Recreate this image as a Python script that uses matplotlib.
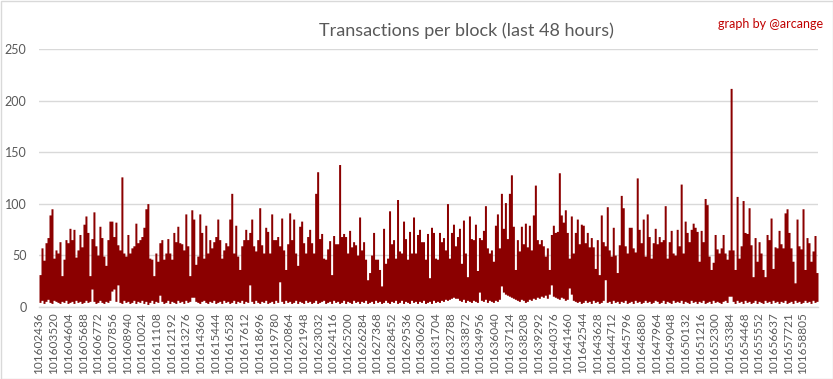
import numpy as np
import matplotlib
matplotlib.use('Agg')
import matplotlib.pyplot as plt
from matplotlib.patches import Rectangle

# block range shown on the axis
first_block = 101602436
last_block = 101659910

# per-column max / min of transactions per block (left to right)
tx_max = [
    31, 57, 45, 62, 67, 89, 95, 47, 55, 52,
    63, 30, 46, 65, 62, 76, 65, 75, 48, 55,
    70, 58, 80, 88, 72, 30, 66, 92, 59, 50,
    78, 67, 49, 40, 65, 83, 83, 68, 82, 60,
    55, 126, 52, 49, 70, 52, 57, 59, 81, 62,
    65, 68, 77, 95, 100, 47, 46, 30, 52, 44,
    62, 65, 46, 52, 66, 52, 46, 72, 63, 78,
    62, 61, 55, 90, 59, 30, 94, 85, 41, 49,
    90, 72, 47, 79, 52, 65, 57, 63, 68, 85,
    65, 47, 55, 62, 59, 85, 110, 52, 79, 49,
    36, 59, 65, 75, 65, 72, 85, 59, 54, 65,
    96, 60, 52, 77, 73, 52, 90, 65, 65, 68,
    59, 86, 55, 36, 61, 91, 65, 85, 52, 40,
    78, 83, 62, 52, 68, 75, 62, 52, 110, 131,
    66, 71, 47, 46, 56, 64, 31, 69, 61, 61,
    138, 68, 71, 68, 52, 74, 58, 63, 60, 50,
    87, 55, 63, 46, 26, 33, 50, 72, 46, 46,
    36, 20, 76, 42, 47, 93, 61, 65, 47, 104,
    54, 52, 83, 66, 46, 73, 52, 87, 52, 70,
    75, 63, 63, 46, 71, 28, 77, 72, 47, 46,
    72, 63, 67, 55, 100, 47, 72, 80, 59, 68,
    76, 42, 84, 52, 29, 88, 66, 65, 80, 35,
    67, 65, 74, 98, 57, 52, 55, 44, 79, 90,
    57, 110, 76, 101, 66, 110, 128, 78, 36, 65,
    54, 78, 61, 81, 58, 79, 55, 89, 118, 65,
    61, 65, 59, 49, 57, 36, 70, 79, 72, 73,
    130, 89, 82, 94, 72, 47, 88, 52, 72, 85,
    61, 80, 79, 62, 72, 58, 67, 58, 37, 65,
    31, 89, 63, 59, 97, 55, 49, 77, 50, 33,
    60, 108, 96, 59, 52, 77, 77, 57, 53, 125,
    75, 62, 85, 49, 90, 68, 47, 62, 76, 61,
    68, 63, 65, 98, 47, 63, 74, 52, 50, 75,
    59, 119, 52, 83, 72, 63, 75, 81, 77, 73,
    44, 74, 63, 105, 99, 49, 36, 43, 70, 56,
    52, 57, 70, 52, 46, 55, 212, 55, 36, 107,
    47, 59, 103, 72, 71, 96, 60, 29, 67, 44,
    63, 52, 36, 29, 70, 65, 86, 37, 58, 57,
    74, 61, 57, 91, 95, 72, 57, 44, 23, 85,
    59, 56, 95, 36, 67, 62, 44, 54, 69, 33,
]

tx_min = [
    4, 6, 3, 5, 7, 4, 3, 6, 5, 4,
    3, 5, 4, 6, 3, 4, 5, 3, 6, 4,
    5, 3, 4, 6, 4, 5, 17, 5, 3, 4,
    6, 4, 3, 5, 4, 6, 15, 17, 5, 21,
    4, 3, 6, 4, 5, 3, 4, 6, 3, 5,
    4, 6, 3, 5, 2, 4, 6, 3, 5, 4,
    11, 5, 3, 4, 6, 3, 5, 4, 3, 6,
    4, 5, 3, 6, 4, 5, 9, 9, 5, 4,
    3, 5, 6, 4, 3, 5, 4, 6, 3, 4,
    5, 3, 6, 4, 5, 3, 4, 6, 3, 5,
    4, 6, 3, 5, 4, 21, 5, 3, 6, 4,
    3, 5, 4, 6, 3, 4, 5, 3, 6, 4,
    24, 5, 3, 6, 4, 5, 3, 4, 6, 3,
    5, 4, 3, 6, 4, 5, 3, 4, 6, 3,
    4, 5, 6, 3, 4, 5, 3, 6, 4, 5,
    3, 4, 6, 3, 5, 4, 3, 6, 4, 5,
    3, 5, 4, 6, 3, 4, 5, 3, 6, 4,
    5, 3, 4, 6, 4, 3, 5, 4, 6, 3,
    4, 6, 3, 5, 4, 3, 6, 4, 5, 3,
    5, 4, 6, 3, 4, 5, 3, 6, 4, 5,
    4, 6, 5, 7, 6, 7, 8, 9, 8, 8,
    6, 5, 7, 4, 6, 5, 4, 6, 5, 4,
    14, 6, 5, 7, 4, 6, 5, 4, 6, 5,
    7, 20, 14, 12, 11, 10, 9, 8, 7, 6,
    5, 7, 6, 4, 5, 7, 6, 8, 7, 9,
    8, 10, 9, 11, 8, 12, 21, 10, 9, 8,
    7, 9, 8, 6, 7, 18, 12, 6, 5, 4,
    5, 3, 4, 6, 4, 5, 3, 6, 4, 5,
    3, 4, 6, 26, 4, 5, 3, 6, 4, 5,
    3, 5, 4, 6, 3, 4, 5, 3, 6, 4,
    5, 3, 4, 6, 4, 5, 3, 4, 6, 5,
    3, 4, 6, 3, 5, 4, 3, 6, 4, 5,
    4, 6, 3, 5, 4, 3, 6, 4, 5, 3,
    5, 4, 6, 3, 4, 5, 3, 6, 4, 5,
    4, 3, 5, 6, 4, 10, 10, 5, 3, 6,
    4, 5, 3, 6, 4, 5, 3, 4, 6, 3,
    5, 4, 3, 6, 4, 5, 3, 6, 4, 5,
    3, 5, 4, 6, 3, 4, 5, 3, 6, 4,
    5, 3, 4, 6, 4, 5, 3, 6, 4, 5,
]

tick_blocks = [
    101602436, 101603520, 101604604, 101605688, 101606772, 101607856,
    101608940, 101610024, 101611108, 101612192, 101613276, 101614360,
    101615444, 101616528, 101617612, 101618696, 101619780, 101620864,
    101621948, 101623032, 101624116, 101625200, 101626284, 101627368,
    101628452, 101629536, 101630620, 101631704, 101632788, 101633872,
    101634956, 101636040, 101637124, 101638208, 101639292, 101640376,
    101641460, 101642544, 101643628, 101644712, 101645796, 101646880,
    101647964, 101649048, 101650132, 101651216, 101652300, 101653384,
    101654468, 101655552, 101656637, 101657721, 101658805,
]

plt.rcParams['font.family'] = ['Lato', 'DejaVu Sans']
grey = '#595959'
red = '#8B0000'

fig = plt.figure(figsize=(8.33, 3.79), dpi=100)
ax = fig.add_axes([39 / 833, 72.5 / 379, 779 / 833, 257.2 / 379])

n = len(tx_max)
edges = np.linspace(first_block, last_block, n + 1)
hi = np.append(tx_max, tx_max[-1])
lo = np.append(tx_min, tx_min[-1])
ax.fill_between(edges, lo, hi, step='post', color=red, linewidth=0, zorder=3)

ax.set_xlim(first_block, last_block)
ax.set_ylim(0, 250)
ax.set_yticks(range(0, 251, 50))
ax.set_xticks(tick_blocks)
ax.set_xticklabels([str(b) for b in tick_blocks], rotation=90)
ax.tick_params(axis='x', length=0, pad=4, labelsize=8.5, labelcolor=grey)
ax.tick_params(axis='y', length=0, pad=9, labelsize=9, labelcolor=grey)
ax.grid(axis='y', color='#D9D9D9', linewidth=1, zorder=0)
ax.set_axisbelow(True)
for s in ['top', 'right', 'left']:
    ax.spines[s].set_visible(False)
ax.spines['bottom'].set_color('#D9D9D9')
ax.spines['bottom'].set_linewidth(1)

fig.text(466 / 833, 1 - 31 / 379, 'Transactions per block (last 48 hours)',
         ha='center', va='center', fontsize=13, color=grey, fontweight='normal')
fig.text(823 / 833, 1 - 24 / 379, 'graph by @arcange', ha='right', va='center',
         fontsize=9, color='#C00000')

fig.patches.append(Rectangle((0.5 / 833, 0.5 / 379), 832 / 833, 378 / 379,
                             transform=fig.transFigure, fill=False,
                             edgecolor='#D9D9D9', linewidth=1))

fig.savefig('out.png', dpi=100)
